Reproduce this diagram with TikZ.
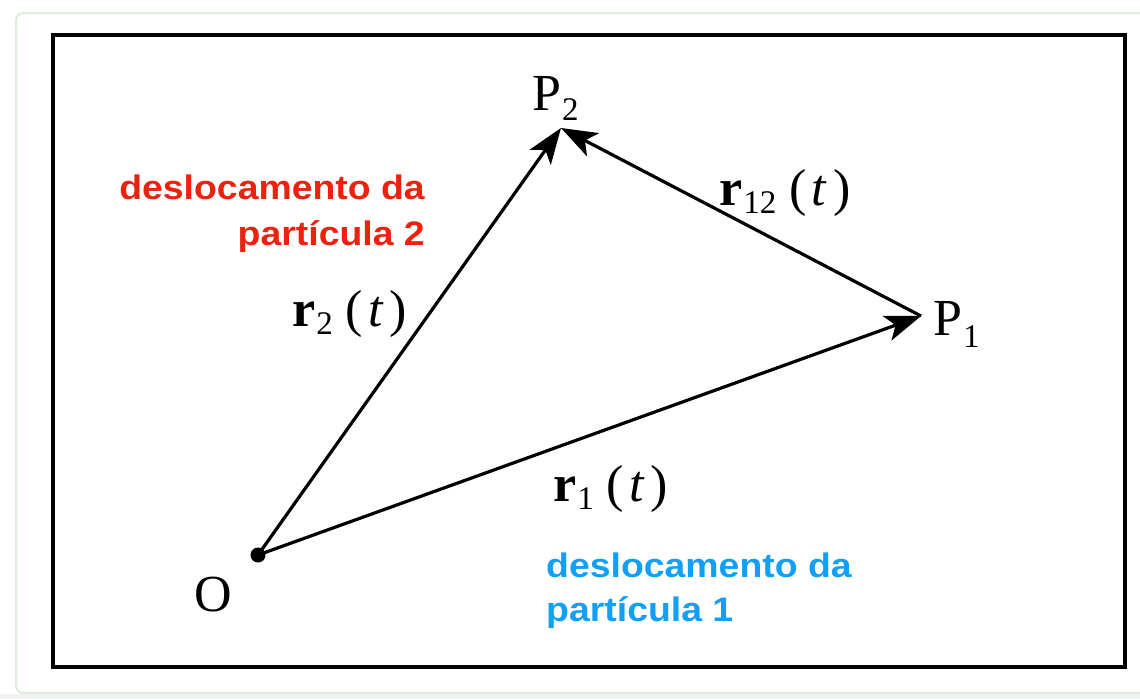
\documentclass[tikz,border=0pt]{standalone}
\usepackage{fontspec}
\setmainfont{Liberation Serif}
\newfontfamily\lblfont[FakeStretch=1.1]{Liberation Sans}
\usetikzlibrary{arrows.meta}
\definecolor{redlbl}{RGB}{236,34,14}
\definecolor{bluelbl}{RGB}{18,160,246}
\definecolor{framegreen}{RGB}{222,236,222}
\definecolor{bandgray}{RGB}{240,244,244}
\newcommand\rlab[1]{\textbf{r}\kern1pt\raisebox{-8pt}{\fontsize{33}{33}\selectfont #1}\kern13pt(\kern5pt\textit{t}\kern6pt)}
\tikzset{
  vec/.style={line width=3.2pt, -{Stealth[length=36pt,width=26pt,inset=9pt]}},
  serif/.style={font=\fontsize{52}{56}\selectfont, inner sep=0pt},
  redtxt/.style={font=\lblfont\bfseries\fontsize{34}{40}\selectfont, text=redlbl, inner sep=0pt},
  bluetxt/.style={font=\lblfont\bfseries\fontsize{34}{40}\selectfont, text=bluelbl, inner sep=0pt},
}
\begin{document}
\begin{tikzpicture}[x=1pt,y=-1pt]
\useasboundingbox (0,0) rectangle (1140,699);
\fill[white] (0,0) rectangle (1140,699);
\fill[bandgray] (0,694) rectangle (1140,699);
\draw[framegreen, line width=2pt, rounded corners=7pt, fill=white] (16,13) rectangle (1160,693);
% inner frame
\draw[line width=3.5pt] (53,35) rectangle (1125,667);
% points
\coordinate (O) at (258,555);
\coordinate (P2) at (561,128);
\coordinate (P1) at (921,316);
\fill (O) circle (7.5pt);
% vectors
\draw[vec] (O) -- (P2);
\draw[vec] (O) -- (P1);
\draw[vec] (P1) -- (P2);
% labels
\node[serif] (lO) at (213,595) {O};
\node[serif, anchor=base west] (lP2) at (532,110) {P\kern1pt\raisebox{-10pt}{\fontsize{33}{33}\selectfont 2}};
\node[serif, anchor=base west] (lP1) at (933,335) {P\kern1pt\raisebox{-12pt}{\fontsize{33}{33}\selectfont 1}};
\node[serif, anchor=base west] (r2) at (292,326) {\rlab{2}};
\node[serif, anchor=base west] (r12) at (719,205) {\rlab{12}};
\node[serif, anchor=base west] (r1) at (553,501) {\rlab{1}};
% annotations
\node[redtxt, anchor=base east] (red1) at (425,199) {deslocamento da};
\node[redtxt, anchor=base east] (red2) at (425,245) {partícula 2};
\node[bluetxt, anchor=base west] (blue1) at (546,577) {deslocamento da};
\node[bluetxt, anchor=base west] (blue2) at (546,621) {partícula 1};
\end{tikzpicture}
\end{document}
